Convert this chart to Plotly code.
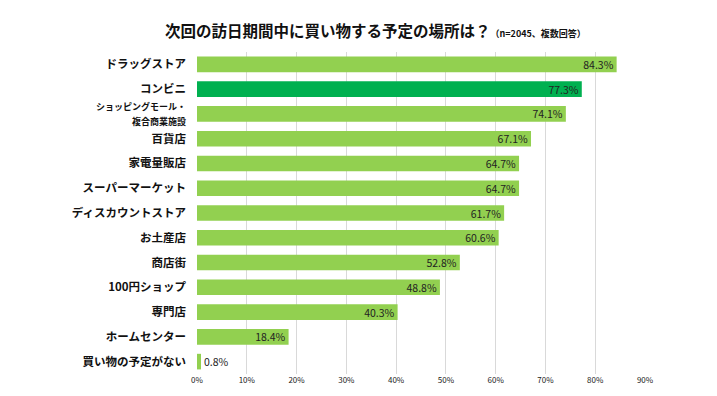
import plotly.graph_objects as go

categories = ["ドラッグストア", "コンビニ", "ショッピングモール・<br>複合商業施設", "百貨店", "家電量販店",
              "スーパーマーケット", "ディスカウントストア", "お土産店", "商店街", "100円ショップ",
              "専門店", "ホームセンター", "買い物の予定がない"]
values = [84.3, 77.3, 74.1, 67.1, 64.7, 64.7, 61.7, 60.6, 52.8, 48.8, 40.3, 18.4, 0.8]
x_ticks = [0, 10, 20, 30, 40, 50, 60, 70, 80, 90]
x_ticklabels = [f"{t}%" for t in x_ticks]

colors = ["#00B050" if c == "コンビニ" else "#92D050" for c in categories]
positions = ["outside" if v < 5 else "inside" for v in values]
ticktext = []
for c in categories:
    if "<br>" in c:
        ticktext.append("<span style='font-size:9px'><b>" + c + "</b></span>")
    else:
        ticktext.append("<b>" + c + "</b>")

fig = go.Figure(go.Bar(
    x=values, y=categories, orientation="h",
    marker=dict(color=colors, line=dict(width=0)),
    text=[f"{v}%" for v in values],
    textposition=positions,
    insidetextanchor="end",
    constraintext="none",
    textfont=dict(size=10.5, color="#222222", family="Noto Sans CJK JP"),
    cliponaxis=False,
))

# page has an 8px body margin, so offsets are given in figure coordinates
L, R, T, B = 189, 80, 44, 30
fig.update_layout(
    width=717, height=396,
    margin=dict(l=L, r=R, t=T, b=B),
    paper_bgcolor="white", plot_bgcolor="white",
    bargap=0.37,
    showlegend=False,
    font=dict(family="Noto Sans CJK JP", color="#111111"),
    xaxis=dict(range=[0, 90], tickvals=x_ticks, ticktext=x_ticklabels,
               showgrid=True, gridcolor="#D9D9D9", gridwidth=1,
               zeroline=False, showline=False, ticks="", automargin=False,
               tickfont=dict(size=8, color="#222222"), ticklabelstandoff=0),
    yaxis=dict(categoryorder="array", categoryarray=categories, autorange="reversed",
               tickvals=categories, ticktext=ticktext, automargin=False,
               showgrid=False, zeroline=False, showline=False, ticks="",
               ticklabelstandoff=10,
               tickfont=dict(size=11.5, color="#111111")),
)
pw = 717 - L - R
ph = 396 - T - B
fig.add_annotation(
    x=(367 - L) / pw, y=(396 - B - 22) / ph, xref="paper", yref="paper", showarrow=False,
    text="<b>次回の訪日期間中に買い物する予定の場所は？</b><span style='font-size:9px'><b>（n=2045、複数回答）</b></span>",
    font=dict(size=15.5, color="#111111", family="Noto Sans CJK JP"),
    xanchor="center", yanchor="middle")
fig.write_html("out.html")
